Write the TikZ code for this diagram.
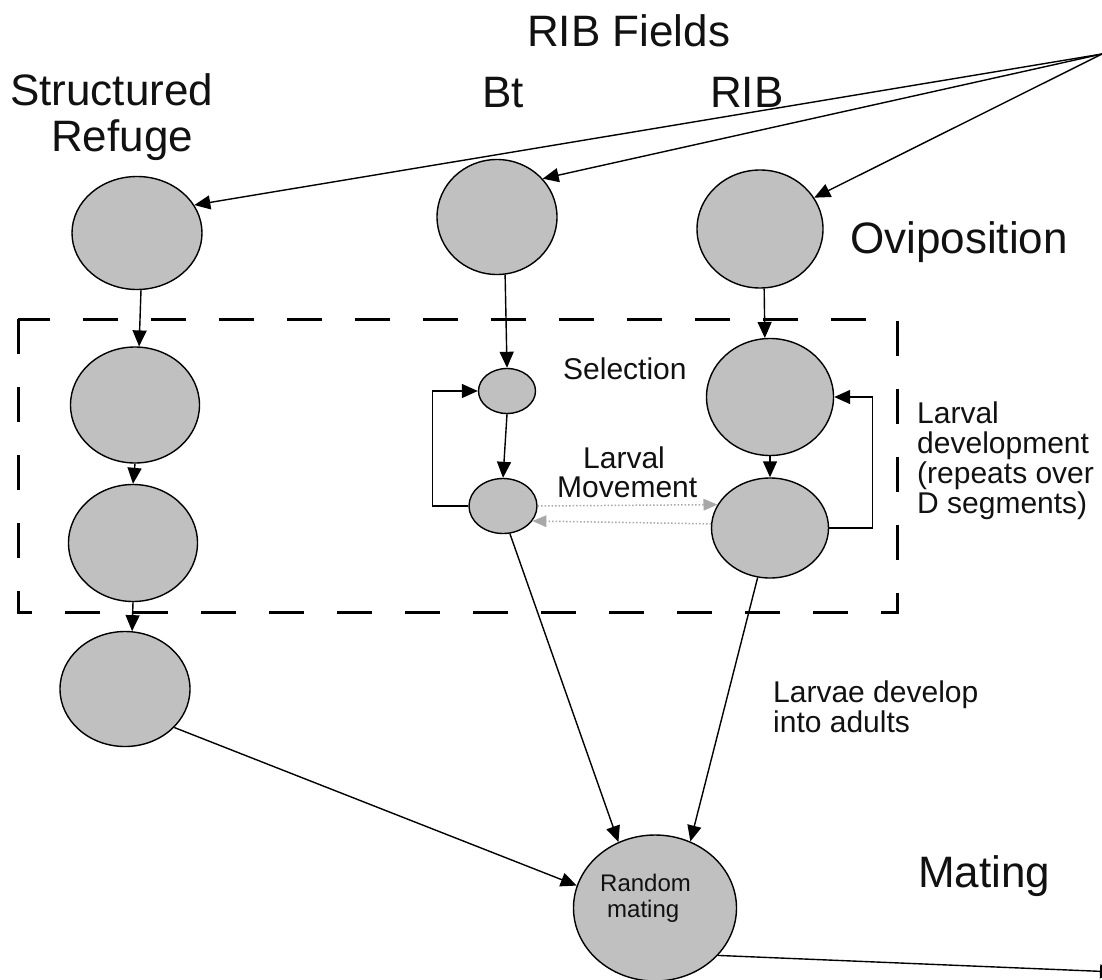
\documentclass[tikz,border=0pt]{standalone}
\usepackage{fontspec}
\setmainfont{Liberation Sans}
\usetikzlibrary{shapes.geometric,arrows.meta}
\definecolor{cellgray}{HTML}{C0C0C0}
\definecolor{txt}{HTML}{111111}
\definecolor{dotgray}{HTML}{A8A8A8}
\begin{document}
\begin{tikzpicture}[x=1pt,y=-1pt,
  blob/.style={ellipse,draw=black,line width=1.4pt,fill=cellgray,inner sep=0pt},
  conn/.style={line width=1.4pt,-{Triangle[length=16pt,width=14pt]}},
  dotconn/.style={draw=dotgray,line width=1.5pt,dotted,-{Triangle[length=14pt,width=12pt,fill=dotgray,color=dotgray,line width=0pt]}},
  bigtxt/.style={font=\fontsize{44}{48}\selectfont,text=txt,inner sep=0pt,anchor=base west},
  smalltxt/.style={font=\fontsize{30}{30}\selectfont,text=txt,inner sep=0pt,anchor=base west},
  tinytxt/.style={font=\fontsize{24}{26}\selectfont,text=txt,inner sep=0pt,anchor=base west},
  dashbox/.style={line width=3pt,dash pattern=on 35pt off 33pt}]

\useasboundingbox (0,0) rectangle (1102,979);

% dashed region
\draw[dashbox] (18,319) rectangle (897,612);

% nodes
\node[blob,minimum width=130pt,minimum height=113pt] (sr1) at (137,233) {};
\node[blob,minimum width=129pt,minimum height=116pt] (sr2) at (135,405) {};
\node[blob,minimum width=129pt,minimum height=117pt] (sr3) at (133,543) {};
\node[blob,minimum width=130pt,minimum height=115pt] (sr4) at (125,689) {};
\node[blob,minimum width=120pt,minimum height=115pt] (bt1) at (497,217) {};
\node[blob,minimum width=57pt,minimum height=45pt] (bts) at (507,391) {};
\node[blob,minimum width=68pt,minimum height=55pt] (btl) at (503,506) {};
\node[blob,minimum width=126pt,minimum height=118pt] (rib1) at (760,229) {};
\node[blob,minimum width=127pt,minimum height=117pt] (rib2) at (770,397) {};
\node[blob,minimum width=117pt,minimum height=100pt] (rib3) at (770,528) {};
\node[blob,minimum width=163pt,minimum height=146pt] (mate) at (655,908) {};

\coordinate (apex) at (1102,54);
\coordinate (outend) at (1116,972);

% texts
\node[bigtxt] (tfields) at (527,47) {RIB Fields};
\node[bigtxt] (tstruct) at (10,106) {Structured};
\node[bigtxt] (trefuge) at (51,151) {Refuge};
\node[bigtxt] (tbt) at (482,107) {Bt};
\node[bigtxt] (trib) at (710,107) {RIB};
\node[bigtxt] (tovi) at (850,253) {Oviposition};
\node[bigtxt] (tmating) at (918,887) {Mating};
\node[smalltxt] (tsel) at (563,379) {Selection};
\node[smalltxt] (tlarval) at (583,468) {Larval};
\node[smalltxt] (tmove) at (557,497) {Movement};
\node[smalltxt] (tld1) at (917,423) {Larval};
\node[smalltxt] (tld2) at (917,453) {development};
\node[smalltxt] (tld3) at (917,483) {(repeats over};
\node[smalltxt] (tld4) at (917,513) {D segments)};
\node[smalltxt] (tlda) at (773,702) {Larvae develop};
\node[smalltxt] (tldb) at (773,732) {into adults};
\node[tinytxt] (trand) at (600,891) {Random};
\node[tinytxt] (tmat) at (607,917) {mating};

% oviposition arrows
\draw[conn] (apex) -- (sr1.26);
\draw[conn] (apex) -- (bt1.40);
\draw[conn] (apex) -- (rib1.30);

% structured refuge chain
\draw[conn] (sr1.-86) -- (sr2.86);
\draw[conn] (sr2.south) -- (sr3.north);
\draw[conn] (sr3.south) -- (sr4.83);
\draw[conn] (sr4.-38) -- (mate.164);

% Bt chain
\draw[conn] (bt1.-82) -- (bts.north);
\draw[conn] (bts.south) -- (btl.north);
\draw[conn] (btl.west) -- ++(-36,0) |- (bts.west);
\draw[conn] (btl.-76) -- (mate.119);

% RIB chain
\draw[conn] (rib1.-86) -- (rib2.95);
\draw[conn] (rib2.south) -- (rib3.north);
\draw[conn] (rib3.east) -- ++(43,0) |- (rib2.east);
\draw[conn] (rib3.-104) -- (mate.62);

% larval movement
\draw[dotconn] (btl.east) -- (rib3.156);
\draw[dotconn] (rib3.176) -- (btl.-27);

% out of mating
\draw[conn] (mate.-37) -- (outend);
\end{tikzpicture}
\end{document}
